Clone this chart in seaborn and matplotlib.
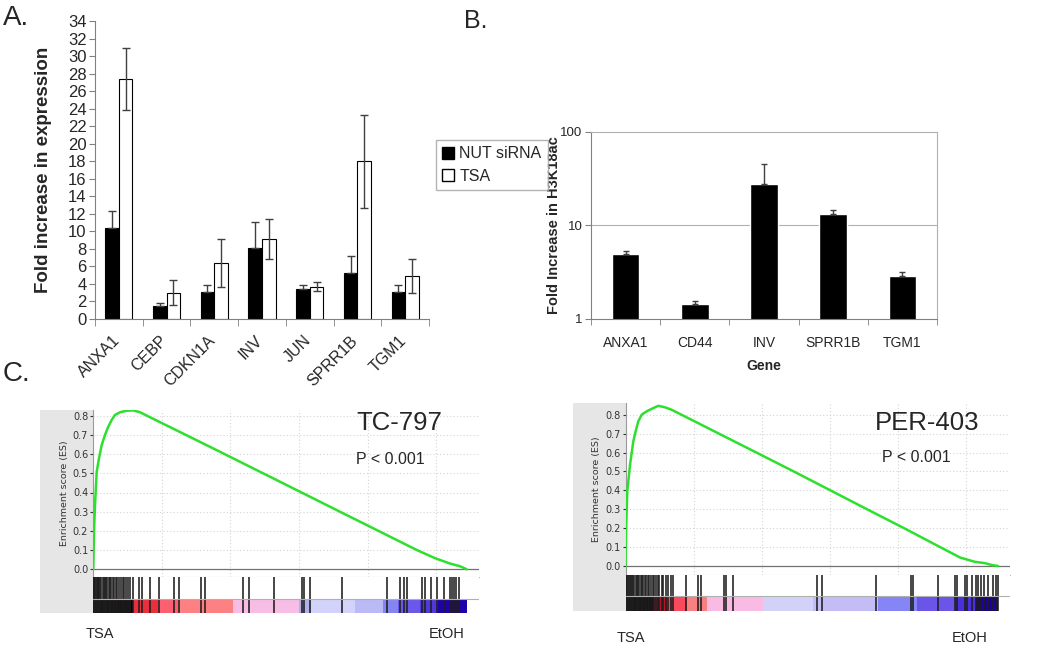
import pandas as pd
import seaborn as sns
import matplotlib.pyplot as plt
import matplotlib.transforms as mtransforms
from matplotlib.patches import Patch

# ---- panel A: fold increase in expression ----
genes_a = ['ANXA1', 'CEBP', 'CDKN1A', 'INV', 'JUN', 'SPRR1B', 'TGM1']
nut_sirna = [10.4, 1.5, 3.1, 8.1, 3.4, 5.2, 3.1]
nut_sirna_err = [1.95, 0.3, 0.75, 3.0, 0.5, 2.0, 0.8]
tsa = [27.4, 3.0, 6.4, 9.1, 3.7, 18.0, 4.9]
tsa_err = [3.5, 1.4, 2.75, 2.3, 0.5, 5.3, 1.9]

# ---- panel B: fold increase in H3K18ac ----
genes_b = ['ANXA1', 'CD44', 'INV', 'SPRR1B', 'TGM1']
h3k18ac = [4.96, 1.45, 27.8, 13.4, 2.88]
h3k18ac_err = [0.35, 0.11, 17.7, 1.1, 0.32]

# ---- panel C: GSEA running enrichment score, TC-797 ----
tc797_rank = [0, 22, 73, 146, 269, 437, 634, 874, 1114, 1362, 1602, 1966, 2454, 2934,
              3422, 4150, 6335, 9247, 12160, 15072, 18203, 20897, 23591, 24902, 25994,
              26722, 27210]
tc797_es = [0.0, 0.005, 0.196, 0.335, 0.508, 0.578, 0.647, 0.70, 0.743, 0.778, 0.804,
            0.818, 0.826, 0.828, 0.818, 0.792, 0.715, 0.612, 0.508, 0.404, 0.292, 0.196,
            0.10, 0.058, 0.030, 0.016, 0.0]
tc797_hits = [0, 40, 90, 150, 200, 260, 330, 400, 470, 540, 610, 700, 780, 860, 950,
              1040, 1130, 1230, 1330, 1440, 1550, 1660, 1780, 1900, 2020, 2150, 2280,
              2420, 2560, 2720, 2880, 3371, 3546, 4150, 4806, 5898, 6284, 7864, 8155,
              10900, 11380, 13179, 15239, 15363, 15778, 18152, 21428, 22331, 22622,
              22863, 23977, 24151, 24632, 25047, 25578, 25972, 26139, 26285, 26452, 26649]
tc797_band_edges = [0, 2934, 4733, 6189, 10193, 14999, 15873, 19076, 21115, 22207,
                    23809, 25120, 27210]
tc797_band_colors = ['#080000', '#e8303c', '#fb5f70', '#fd8082', '#f8bde4', '#b0b0ea',
                     '#d2d2fa', '#babaf6', '#8585f2', '#6a58ea', '#5038dc', '#2000a8']

# ---- panel C: GSEA running enrichment score, PER-403 ----
per403_rank = [0, 37, 132, 331, 574, 772, 941, 1191, 1559, 1926, 2412, 2904, 3397,
               9154, 12368, 15338, 17816, 20537, 23132, 24597, 25699, 26434,
               26949, 27390]
per403_es = [0.0, 0.183, 0.395, 0.535, 0.659, 0.72, 0.765, 0.80, 0.818, 0.831, 0.847,
             0.839, 0.826, 0.617, 0.50, 0.39, 0.298, 0.198, 0.10, 0.045, 0.022,
             0.015, 0.005, 0.0]
per403_hits = [0, 60, 120, 190, 260, 330, 410, 490, 570, 650, 740, 830, 920, 1010, 1110,
               1210, 1310, 1420, 1530, 1640, 1760, 1880, 2000, 2130, 2260, 2400, 2485,
               2662, 2779, 2978, 3147, 3324, 3515, 4449, 5353, 5551, 7243, 7390, 7926,
               14081, 14471, 18441, 21015, 21140, 22978, 24206, 24375, 24941, 25110,
               25500, 25750, 25919, 26162, 26338, 26655, 27022, 27221, 27390]
per403_band_edges = [0, 2022, 3051, 4522, 5993, 10110, 13787, 18566, 21434, 24228,
                     25772, 27390]
per403_band_colors = ['#080000', '#b01828', '#f84a5c', '#f88080', '#f9bbe3', '#d2d2f9',
                      '#c3bcf5', '#8585f5', '#6a55e8', '#4a30d8', '#1c0098']

sns.set_style('white')
plt.rcParams['font.family'] = ['Liberation Sans', 'DejaVu Sans']

W, H = 1050, 646


def box(left, top, right, bottom):
    # pixel box -> figure fraction rect
    return [left / W, 1 - bottom / H, (right - left) / W, (bottom - top) / H]


fig = plt.figure(figsize=(10.5, 6.46), dpi=100)

# ================= A =================
axA = fig.add_axes(box(95, 21, 429, 319))
df_a = pd.DataFrame({'gene': genes_a * 2,
                     'fold': nut_sirna + tsa,
                     'treatment': ['NUT siRNA'] * len(genes_a) + ['TSA'] * len(genes_a)})
sns.barplot(data=df_a, x='gene', y='fold', hue='treatment', palette=['black', 'white'],
            edgecolor='black', linewidth=0.8, width=0.57, saturation=1,
            errorbar=None, legend=False, ax=axA)
errs = nut_sirna_err + tsa_err
for i, bar in enumerate(axA.patches):
    cx = bar.get_x() + bar.get_width() / 2
    e = errs[i]
    yerr = [[0], [e]] if i < len(genes_a) else [[e], [e]]
    axA.errorbar(cx, bar.get_height(), yerr=yerr, fmt='none', ecolor='#404040',
                 elinewidth=1, capsize=3, capthick=1)
axA.set_xlim(-0.5, len(genes_a) - 0.5)
axA.set_ylim(0, 34)
axA.set_yticks(range(0, 35, 2))
axA.tick_params(axis='y', labelsize=12, length=4, color='#808080', left=True, pad=2)
axA.set_xticks([i + 0.5 for i in range(-1, len(genes_a))], minor=True)
axA.tick_params(axis='x', which='minor', length=5, color='#808080', bottom=True)
axA.tick_params(axis='x', which='major', length=0, pad=10)
axA.set_xticks(range(len(genes_a)))
axA.set_xticklabels(genes_a, rotation=45, ha='right', rotation_mode='anchor', fontsize=11.5)
shift = mtransforms.ScaledTranslation(-7 / 100, 0, fig.dpi_scale_trans)
for lab in axA.get_xticklabels():
    lab.set_transform(lab.get_transform() + shift)
for s in ['top', 'right']:
    axA.spines[s].set_visible(False)
for s in ['left', 'bottom']:
    axA.spines[s].set_color('#808080')
axA.set_xlabel('')
axA.set_ylabel('Fold increase in expression', fontsize=13.5, fontweight='bold')
axA.yaxis.set_label_coords(-0.128, 0.5)

fig.legend(handles=[Patch(fc='black', ec='black', label='NUT siRNA'),
                    Patch(fc='white', ec='black', label='TSA')],
           loc='upper left', bbox_to_anchor=(436 / W, 1 - 140 / H), frameon=True,
           fancybox=False, edgecolor='#a0a0a0', fontsize=11.5, handlelength=0.75,
           handleheight=0.75, handletextpad=0.3, borderpad=0.4, labelspacing=0.45,
           borderaxespad=0)

# ================= B =================
axB = fig.add_axes(box(591, 132, 937, 319))
sns.barplot(x=genes_b, y=h3k18ac, color='black', width=0.4, saturation=1,
            errorbar=None, ax=axB)
for i, bar in enumerate(axB.patches):
    cx = bar.get_x() + bar.get_width() / 2
    axB.errorbar(cx, bar.get_height(), yerr=[[0], [h3k18ac_err[i]]], fmt='none',
                 ecolor='#404040', elinewidth=1, capsize=2, capthick=1)
axB.set_yscale('log')
axB.set_ylim(1, 100)
axB.set_xlim(-0.5, len(genes_b) - 0.5)
axB.axhline(10, color='#b0b0b0', lw=0.8, zorder=0)
axB.set_yticks([1, 10, 100])
axB.set_yticklabels(['1', '10', '100'])
axB.minorticks_off()
axB.tick_params(axis='y', labelsize=9.5, length=4, color='#808080', left=True, pad=2)
axB.set_xticks([i + 0.5 for i in range(-1, len(genes_b))], minor=True)
axB.tick_params(axis='x', which='minor', length=4, color='#808080', bottom=True)
axB.tick_params(axis='x', which='major', length=0, labelsize=10, pad=12)
for s in ['top', 'right']:
    axB.spines[s].set_color('#b0b0b0')
for s in ['left', 'bottom']:
    axB.spines[s].set_color('#808080')
axB.set_xlabel('Gene', fontsize=10, fontweight='bold', labelpad=7)
axB.set_ylabel('Fold Increase in H3K18ac', fontsize=10.5, fontweight='bold')
axB.yaxis.set_label_coords(-0.088, 0.5)


# ================= C =================
def gsea_panel(left, right, top, es_bottom, sep, band_bottom, strip_left, y0_px, y8_px,
               step_px, rank, es, hits, edges, colors):
    strip = fig.add_axes(box(strip_left, top, left, band_bottom))
    strip.set_facecolor('#e6e6e6')
    strip.set_xticks([])
    strip.set_yticks([])
    for s in strip.spines.values():
        s.set_visible(False)

    per_unit = (y0_px - y8_px) / 0.8
    ymax = 0.8 + (y8_px - top) / per_unit
    ymin = -(es_bottom - y0_px) / per_unit
    xmax = (right - left) / step_px * 5000

    ax = fig.add_axes(box(left, top, right, es_bottom))
    ax.set_facecolor('white')
    for g in range(5000, int(xmax), 5000):
        ax.axvline(g, color='#d4d4d4', lw=0.8, ls=(0, (1, 2)), zorder=0)
    for g in [0.1, 0.2, 0.3, 0.4, 0.5, 0.6, 0.7, 0.8]:
        ax.axhline(g, color='#d4d4d4', lw=0.8, ls=(0, (1, 2)), zorder=0)
    ax.axhline(0, color='#707070', lw=0.9, zorder=1)
    sns.lineplot(x=rank, y=es, color='#2ee02e', lw=1.8, ax=ax, zorder=3)
    ax.set_xlim(0, xmax)
    ax.set_ylim(ymin, ymax)
    ax.set_xticks([])
    ax.set_yticks([0.0, 0.1, 0.2, 0.3, 0.4, 0.5, 0.6, 0.7, 0.8])
    ax.set_yticklabels(['0.0', '0.1', '0.2', '0.3', '0.4', '0.5', '0.6', '0.7', '0.8'],
                       family='DejaVu Sans')
    ax.tick_params(axis='y', labelsize=7, colors='#333333', length=2, left=True, pad=1.5)
    ax.spines['top'].set_visible(False)
    ax.spines['right'].set_visible(False)
    ax.spines['left'].set_color('#9a9a9a')
    ax.spines['bottom'].set_color('#b8b8b8')
    ax.set_ylabel('Enrichment score (ES)', fontsize=6.8, color='#333333',
                  family='DejaVu Sans', labelpad=3)

    axh = fig.add_axes(box(left, es_bottom, right, band_bottom))
    frac = (band_bottom - sep) / (band_bottom - es_bottom)
    for x0, x1, c in zip(edges[:-1], edges[1:], colors):
        axh.axvspan(x0, x1, ymin=0, ymax=frac, color=c, lw=0)
    axh.vlines(hits, 0, 1, color='#1e1e1e', lw=1.15)
    axh.axhline(frac, color='#b0b0b0', lw=0.8)
    axh.set_xlim(0, xmax)
    axh.set_ylim(0, 1)
    axh.set_xticks([])
    axh.set_yticks([])
    for s in axh.spines.values():
        s.set_visible(False)


gsea_panel(93, 479, 410, 577, 599, 613, 40, 569.3, 415.7, 68.67,
           tc797_rank, tc797_es, tc797_hits, tc797_band_edges, tc797_band_colors)
gsea_panel(625.5, 1010, 403, 575, 596, 611, 573, 566, 414.7, 68.0,
           per403_rank, per403_es, per403_hits, per403_band_edges, per403_band_colors)

# panel letters and annotations
fig.text(3 / W, 1 - 5 / H, 'A.', fontsize=20, va='top')
fig.text(464 / W, 1 - 9 / H, 'B.', fontsize=18, va='top')
fig.text(3 / W, 1 - 361 / H, 'C.', fontsize=20, va='top')
fig.text(356 / W, 1 - 411 / H, 'TC-797', fontsize=18.5, va='top')
fig.text(356 / W, 1 - 452 / H, 'P < 0.001', fontsize=11.5, va='top')
fig.text(875 / W, 1 - 411 / H, 'PER-403', fontsize=18.5, va='top')
fig.text(882 / W, 1 - 450 / H, 'P < 0.001', fontsize=11.5, va='top')
fig.text(86 / W, 1 - 627 / H, 'TSA', fontsize=10.5, va='top')
fig.text(429 / W, 1 - 627 / H, 'EtOH', fontsize=10.5, va='top')
fig.text(617 / W, 1 - 631 / H, 'TSA', fontsize=10.5, va='top')
fig.text(952 / W, 1 - 631 / H, 'EtOH', fontsize=10.5, va='top')

fig.savefig('out.png', dpi=100)
